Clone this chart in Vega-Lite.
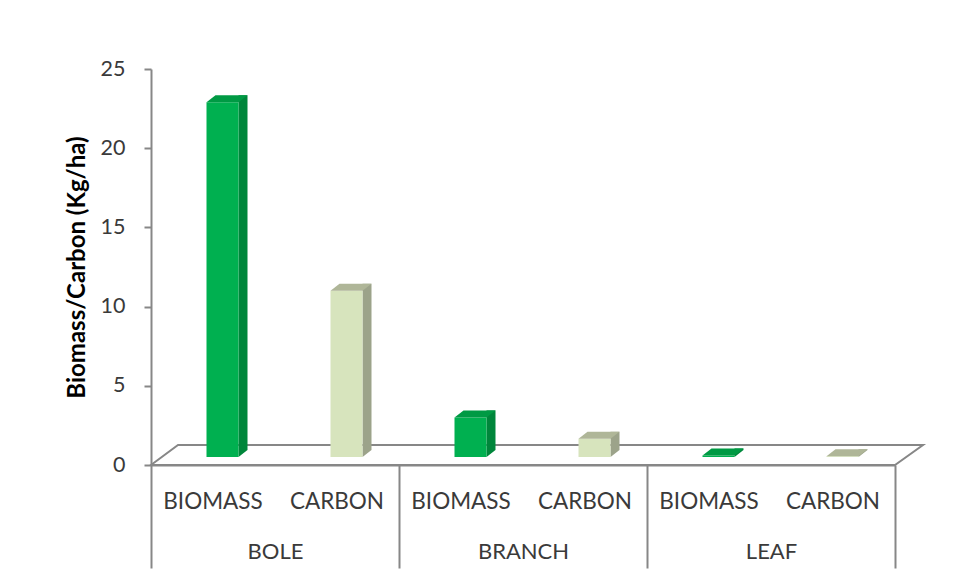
{
  "$schema": "https://vega.github.io/schema/vega-lite/v6.json",
  "width": 744,
  "height": 396,
  "autosize": {"type": "none"},
  "padding": {"left": 151, "top": 69, "right": 63, "bottom": 115},
  "background": "white",
  "config": {"view": {"stroke": null}, "font": "Lato"},
  "data": {
    "values": [
      {"part": "BOLE", "series": "BIOMASS", "key": "BOLE|BIOMASS", "value": 22.4},
      {"part": "BOLE", "series": "CARBON", "key": "BOLE|CARBON", "value": 10.5},
      {"part": "BRANCH", "series": "BIOMASS", "key": "BRANCH|BIOMASS", "value": 2.5},
      {"part": "BRANCH", "series": "CARBON", "key": "BRANCH|CARBON", "value": 1.15},
      {"part": "LEAF", "series": "BIOMASS", "key": "LEAF|BIOMASS", "value": 0.1},
      {"part": "LEAF", "series": "CARBON", "key": "LEAF|CARBON", "value": 0.05}
    ]
  },
  "layer": [
    {
      "data": {"values": [{}]},
      "mark": {
        "type": "point",
        "shape": "M -1 0.0259 L -0.930 -0.0259 L 1 -0.0259 L 0.9275 0.0259 Z",
        "size": 595984,
        "fill": "white",
        "stroke": "#878787",
        "strokeWidth": 2,
        "opacity": 1,
        "fillOpacity": 1,
        "strokeOpacity": 1,
        "xOffset": 14,
        "yOffset": -10
      },
      "encoding": {
        "y": {"datum": 0, "type": "quantitative", "scale": {"domain": [0, 25], "nice": false}}
      }
    },
    {
      "encoding": {
        "x": {
          "field": "key",
          "type": "nominal",
          "sort": null,
          "scale": {"paddingInner": 0, "paddingOuter": 0},
          "axis": {
            "orient": "bottom",
            "title": null,
            "labelExpr": "split(datum.label, '|')[1]",
            "labelAngle": 0,
            "ticks": false,
            "tickSize": 0,
            "labelPadding": 25,
            "labelFontSize": 22.5,
            "labelColor": "#3a3a3a",
            "domainColor": "#878787",
            "domainWidth": 2
          }
        }
      },
      "layer": [
        {
          "mark": {"type": "bar", "width": 9, "xOffset": 30, "yOffset": -15, "y2Offset": -15},
          "encoding": {
            "y": {"field": "value", "type": "quantitative", "scale": {"domain": [0, 25], "nice": false}},
            "color": {"condition": {"test": "datum.series === 'BIOMASS'", "value": "#00863b"}, "value": "#9ca38a"}
          }
        },
        {
          "mark": {
            "type": "point",
            "shape": "M 0.64 0 L 0.64 -0.28 L 1 -0.28 Z",
            "size": 2500,
            "filled": true,
            "opacity": 1,
            "strokeWidth": 0,
            "xOffset": 9.5,
            "yOffset": -8
          },
          "encoding": {
            "y": {"datum": 0, "type": "quantitative", "scale": {"domain": [0, 25], "nice": false}},
            "color": {"condition": {"test": "datum.series === 'BIOMASS'", "value": "#00863b"}, "value": "#9ca38a"}
          }
        },
        {
          "mark": {"type": "bar", "width": 32, "xOffset": 9.5, "yOffset": -8, "y2Offset": -8},
          "encoding": {
            "y": {
              "field": "value",
              "type": "quantitative",
              "scale": {"domain": [0, 25], "nice": false},
              "axis": {
                "values": [0, 5, 10, 15, 20, 25],
                "title": "Biomass/Carbon (Kg/ha)",
                "titleFontSize": 24,
                "titleFontWeight": "bold",
                "titleColor": "#000000",
                "titlePadding": 11,
                "labelFontSize": 21.5,
                "labelColor": "#3a3a3a",
                "labelPadding": 19,
                "tickSize": 7,
                "tickWidth": 2,
                "tickColor": "#878787",
                "domainColor": "#878787",
                "domainWidth": 2,
                "grid": false
              }
            },
            "color": {"condition": {"test": "datum.series === 'BIOMASS'", "value": "#00b050"}, "value": "#d7e4bd"}
          }
        },
        {
          "mark": {
            "type": "point",
            "shape": "M -0.64 0 L -0.28 -0.28 L 1 -0.28 L 0.64 0 Z",
            "size": 2500,
            "filled": true,
            "opacity": 1,
            "strokeWidth": 0,
            "xOffset": 9.5,
            "yOffset": -8
          },
          "encoding": {
            "y": {"field": "value", "type": "quantitative", "scale": {"domain": [0, 25], "nice": false}},
            "color": {"condition": {"test": "datum.series === 'BIOMASS'", "value": "#009a44"}, "value": "#afb698"}
          }
        }
      ]
    },
    {
      "mark": {"type": "point", "opacity": 0},
      "encoding": {
        "x": {
          "field": "part",
          "type": "nominal",
          "sort": null,
          "scale": {"paddingInner": 0, "paddingOuter": 0},
          "axis": {
            "orient": "bottom",
            "title": null,
            "ticks": false,
            "tickSize": 0,
            "domain": false,
            "labelAngle": 0,
            "labelPadding": 76,
            "labelFontSize": 22,
            "labelColor": "#3a3a3a"
          }
        }
      }
    },
    {
      "data": {"values": [{}]},
      "mark": {"type": "point", "opacity": 0},
      "encoding": {
        "x": {
          "datum": 0,
          "type": "quantitative",
          "scale": {"domain": [0, 3], "nice": false, "zero": false},
          "axis": {
            "orient": "bottom",
            "title": null,
            "values": [0, 1, 2, 3],
            "labels": false,
            "domain": false,
            "grid": false,
            "tickSize": 103,
            "tickWidth": 2,
            "tickColor": "#878787"
          }
        }
      }
    }
  ],
  "resolve": {"scale": {"x": "independent"}, "axis": {"x": "independent"}}
}
